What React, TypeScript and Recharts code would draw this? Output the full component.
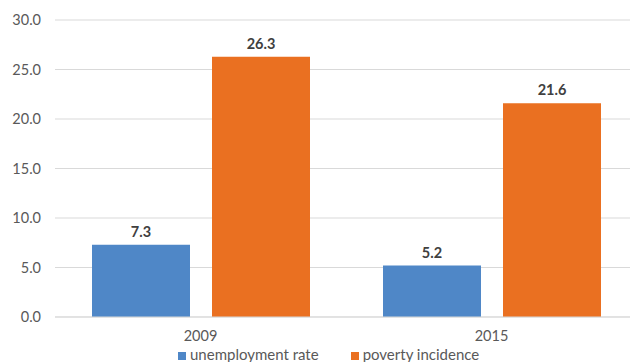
import { BarChart, Bar, XAxis, YAxis, CartesianGrid, Legend, LabelList } from "recharts";

const years = ["2009", "2015"];
const unemploymentRate = [7.3, 5.2];
const povertyIncidence = [26.3, 21.6];
const yTicks = [0, 5, 10, 15, 20, 25, 30];

const data = years.map((year, i) => ({
  year,
  unemployment: unemploymentRate[i],
  poverty: povertyIncidence[i],
}));

const font = "Lato, 'Open Sans', sans-serif";
const seriesOrder: Record<string, number> = { unemployment: 0, poverty: 1 };

export default function App() {
  return (
    <div
      style={{
        position: "fixed",
        left: 0,
        top: 0,
        width: 630,
        height: 362,
        overflow: "hidden",
        background: "#fff",
        fontFamily: font,
      }}
    >
      <BarChart
        width={645}
        height={362}
        data={data}
        margin={{ top: 20, right: 8, left: 0, bottom: 0 }}
        barSize={98}
        barGap={22}
      >
        <CartesianGrid vertical={false} stroke="#d9d9d9" />
        <XAxis
          dataKey="year"
          tickLine={false}
          axisLine={{ stroke: "#d9d9d9" }}
          tickMargin={8}
          tick={{ fill: "#595959", fontSize: 14.5, fontFamily: font }}
          height={29}
        />
        <YAxis
          domain={[0, 30]}
          ticks={yTicks}
          width={55}
          tickLine={false}
          axisLine={false}
          tickMargin={8}
          tickFormatter={(v: number) => v.toFixed(1)}
          tick={{ fill: "#595959", fontSize: 14.5, fontFamily: font }}
        />
        <Legend
          align="left"
          verticalAlign="bottom"
          iconType="square"
          iconSize={8}
          itemSorter={(item: any) => seriesOrder[item.dataKey] ?? 0}
          wrapperStyle={{ left: 178, width: "auto", fontSize: 15, color: "#595959", bottom: 0, lineHeight: "16px" }}
          formatter={(value: string) => <span style={{ color: "#595959", marginRight: 22 }}>{value}</span>}
        />
        <Bar dataKey="unemployment" name="unemployment rate" fill="#4f87c7" isAnimationActive={false}>
          <LabelList
            dataKey="unemployment"
            position="top"
            offset={8}
            formatter={(v: number) => v.toFixed(1)}
            style={{ fill: "#404040", fontSize: 14.5, fontWeight: 700, fontFamily: font }}
          />
        </Bar>
        <Bar dataKey="poverty" name="poverty incidence" fill="#ea7021" isAnimationActive={false}>
          <LabelList
            dataKey="poverty"
            position="top"
            offset={8}
            formatter={(v: number) => v.toFixed(1)}
            style={{ fill: "#404040", fontSize: 14.5, fontWeight: 700, fontFamily: font }}
          />
        </Bar>
      </BarChart>
    </div>
  );
}
